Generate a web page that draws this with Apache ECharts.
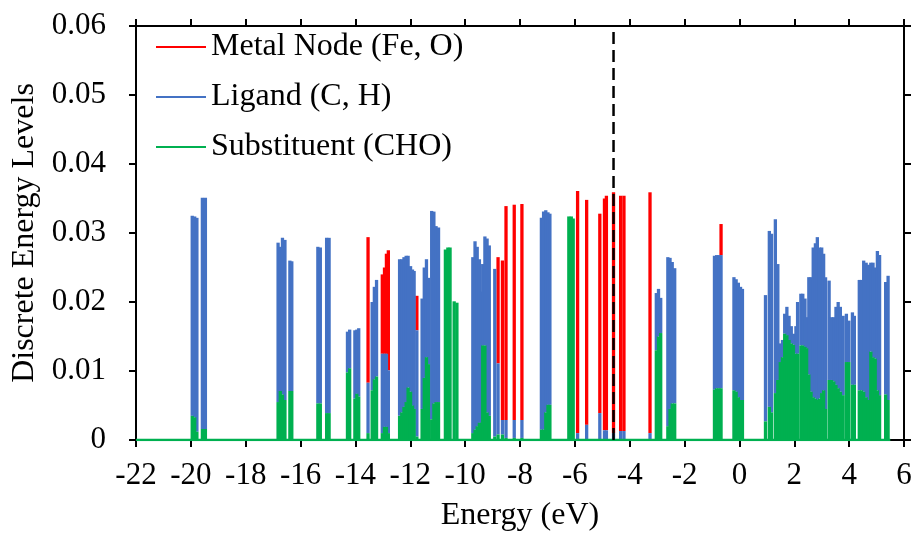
<!DOCTYPE html>
<html><head><meta charset="utf-8">
<script src="https://cdn.jsdelivr.net/npm/echarts@6/dist/echarts.min.js"></script>
<style>html,body{margin:0;padding:0;background:#fff}#c{width:916px;height:537px}</style>
</head><body><div id="c"></div>
<script>
// Discrete energy levels (eV) and partial contributions
const energy = [
 -19.95,-19.86,-19.78,-19.58,-19.47,
 -16.82,-16.74,-16.66,-16.57,-16.39,-16.32,
 -15.37,-15.28,-15.05,-14.96,
 -14.29,-14.21,-14.02,-13.95,-13.88,
 -13.54,-13.39,-13.31,-13.23,
 -13.02,-12.94,-12.87,-12.80,
 -12.39,-12.31,-12.23,-12.15,-12.08,-11.99,-11.92,-11.86,
 -11.76,-11.57,-11.49,-11.41,-11.34,
 -11.22,-11.14,-11.06,-10.97,
 -10.72,-10.63,-10.55,-10.40,-10.30,
 -9.72,-9.64,-9.56,-9.48,-9.42,-9.36,-9.28,-9.20,-9.12,
 -8.92,-8.80,-8.64,-8.51,-8.21,-7.93,
 -7.22,-7.14,-7.06,-6.98,-6.91,
 -6.22,-6.13,-6.06,
 -5.90,-5.57,-5.09,-4.92,-4.85,-4.59,-4.33,-4.21,-3.26,
 -3.03,-2.95,-2.87,
 -2.61,-2.53,-2.45,-2.36,
 -0.91,-0.83,-0.75,-0.67,
 -0.20,-0.12,-0.04,0.04,0.11,
 0.95,1.09,1.17,1.31,1.40,1.49,1.57,1.65,1.73,1.81,1.89,1.97,2.06,2.12,
 2.24,2.31,2.39,2.45,2.53,2.61,2.69,2.77,2.84,2.92,3.00,3.07,3.14,
 3.27,3.36,3.44,3.52,3.60,3.68,3.78,3.90,3.99,4.12,4.19,
 4.37,4.45,4.53,4.62,4.70,4.79,4.87,4.95,5.03,5.11,5.33,5.42
];
const substituent = [
 0.0035,0.0033,0.0012,0.0016,0.0016,
 0.0055,0.0071,0.0066,0.0058,0.0071,0.0071,
 0.0053,0.0053,0.0039,0.0039,
 0.0098,0.0104,0.0060,0.0067,0.0063,
 0.0010,0.0072,0.0088,0.0092,
 0.0010,0.0019,0.0019,0.0010,
 0.0035,0.0040,0.0048,0.0055,0.0076,0.0070,0.0050,0.0045,
 0.0005,0.0045,0.0090,0.0120,0.0110,
 0.0030,0.0053,0.0055,0.0055,
 0.0276,0.0279,0.0279,0.0201,0.0199,
 0.0010,0.0015,0.0020,0.0025,0.0025,0.0137,0.0137,0.0040,0.0035,
 0.0005,0.0008,0.0008,0.0003,0.0003,0.0003,
 0.0015,0.0015,0.0040,0.0051,0.0051,
 0.0324,0.0324,0.0321,
 0,0,0,0,0,0,0,0,0,
 0.0130,0.0150,0.0155,
 0.0020,0.0045,0.0053,0.0053,
 0.0073,0.0075,0.0075,0.0075,
 0.0072,0.0070,0.0062,0.0058,0.0058,
 0.0027,0.0048,0.0040,0.0068,0.0087,0.0113,0.0120,0.0154,0.0152,0.0145,0.0140,0.0138,0.0125,0.0125,
 0.0137,0.0137,0.0135,0.0133,0.0095,0.0070,0.0062,0.0060,0.0058,0.0060,0.0068,0.0072,0.0045,
 0.0087,0.0087,0.0085,0.0080,0.0075,0.0070,0.0065,0.0113,0.0113,0.0080,0.0080,
 0.0072,0.0072,0.0070,0.0062,0.0058,0.0128,0.0120,0.0118,0.0072,0.0065,0.0066,0.0058
];
const ligand = [
 0.0290,0.0291,0.0310,0.0335,0.0335,
 0.0231,0.0209,0.0227,0.0232,0.0189,0.0188,
 0.0227,0.0226,0.0254,0.0254,
 0.0059,0.0056,0.0099,0.0093,0.0099,
 0.0073,0.0128,0.0134,0.0140,
 0.0115,0.0106,0.0106,0.0091,
 0.0227,0.0222,0.0217,0.0212,0.0191,0.0182,0.0197,0.0200,
 0.0154,0.0160,0.0160,0.0142,0.0125,
 0.0302,0.0278,0.0255,0.0253,
 0,0,0,0,0,
 0.0255,0.0273,0.0260,0.0237,0.0190,0.0118,0.0158,0.0252,0.0247,
 0.0243,0.0103,0.0021,0.0026,0.0026,0.0026,
 0.0307,0.0316,0.0293,0.0279,0.0277,
 0,0,0,
 0.0010,0.0022,0.0039,0.0014,0.0014,0.0010,0.0013,0.0013,0.0010,
 0.0083,0.0069,0.0051,
 0.0245,0.0219,0.0205,0.0196,
 0.0194,0.0193,0.0193,0.0193,
 0.0164,0.0163,0.0166,0.0164,0.0161,
 0.0183,0.0255,0.0259,0.0252,0.0168,0.0027,0.0025,0.0029,0.0041,0.0035,0.0025,0.0016,0.0040,0.0075,
 0.0075,0.0075,0.0070,0.0045,0.0141,0.0166,0.0217,0.0225,0.0236,0.0219,0.0211,0.0198,0.0191,
 0.0144,0.0091,0.0093,0.0113,0.0125,0.0123,0.0115,0.0070,0.0060,0.0105,0.0100,
 0.0160,0.0160,0.0190,0.0195,0.0196,0.0129,0.0137,0.0132,0.0202,0.0203,0.0163,0.0180
];
const metal = [
 0,0,0,0,0,
 0,0,0,0,0,0,
 0,0,0,0,
 0,0,0,0,0,
 0.0211,0,0,0,
 0.0115,0.0125,0.0145,0.0174,
 0,0,0,0,0,0,0,0,
 0.0050,0,0,0,0,
 0,0,0,0,
 0,0,0,0,0,
 0,0,0,0,0,0,0,0,0,
 0,0.0154,0.0231,0.0310,0.0312,0.0313,
 0,0,0,0,0,
 0,0,0,
 0.0351,0.0326,0.0289,0.0336,0.0340,0.0349,0.0341,0.0341,0.0349,
 0,0,0,
 0,0,0,0,
 0,0,0,0.0045,
 0,0,0,0,0,
 0,0,0,0,0,0,0,0,0,0,0,0,0,0,
 0,0,0,0,0,0,0,0,0,0,0,0,0,
 0,0,0,0,0,0,0,0,0,0,0,
 0,0,0,0,0,0,0,0,0,0,0,0
];
const seriesNames = ['Metal Node (Fe, O)', 'Ligand (C, H)', 'Substituent (CHO)'];
const seriesColors = ['#ff0000', '#4472c4', '#00b050'];
const fermiLevel = -4.59;
const baselineSpan = [-22, 5.5];
const xRange = [-22, 6, 2];
const yRange = [0, 0.06, 0.01];

// stacked segments [energy, bottom, top]: substituent at bottom, ligand, then metal node
const r5 = v => +v.toFixed(5);
const subSeg = [], ligSeg = [], metSeg = [];
energy.forEach((e, i) => {
  const s = substituent[i], l = ligand[i], m = metal[i];
  if (s > 0) subSeg.push([e, 0, r5(s)]);
  if (l > 0) ligSeg.push([e, r5(s), r5(s + l)]);
  if (m > 0) metSeg.push([e, r5(s + l), r5(s + l + m)]);
});

const BAR_PX = 3.3;
function renderLevel(params, api) {
  const e = api.value(0);
  const p0 = api.coord([e, api.value(1)]);
  const p1 = api.coord([e, api.value(2)]);
  return {
    type: 'rect',
    shape: {x: p0[0] - BAR_PX / 2, y: p1[1], width: BAR_PX, height: p0[1] - p1[1]},
    style: {fill: api.visual('color')}
  };
}

const font = 'Liberation Serif';
const axisLine = {show: true, onZero: false, lineStyle: {color: '#000', width: 2}};
const axisTick = {show: true, inside: false, length: 7, lineStyle: {color: '#000', width: 2}};

const levelSeries = (idx, data, z) => ({
  name: seriesNames[idx], type: 'custom', renderItem: renderLevel, data,
  encode: {x: 0, y: [1, 2]}, color: seriesColors[idx], itemStyle: {color: seriesColors[idx]},
  z, silent: true
});

const chart = echarts.init(document.getElementById('c'));
chart.setOption({
  animation: false,
  backgroundColor: '#fff',
  grid: {left: 136, right: 12, top: 26, bottom: 97},
  legend: {
    data: seriesNames.map((n, i) => ({name: n, itemStyle: {color: seriesColors[i]}})),
    orient: 'vertical', left: 151, top: 26,
    icon: 'rect', itemWidth: 50, itemHeight: 2, itemGap: 18, selectedMode: false,
    textStyle: {fontFamily: font, fontSize: 32, color: '#000', lineHeight: 32}
  },
  xAxis: [
    {type: 'value', min: xRange[0], max: xRange[1], interval: xRange[2], position: 'bottom',
     axisLine, axisTick, splitLine: {show: false},
     axisLabel: {fontFamily: font, fontSize: 31, color: '#000', margin: 20},
     name: 'Energy (eV)', nameLocation: 'middle', nameGap: 60,
     nameTextStyle: {fontFamily: font, fontSize: 32, color: '#000'}},
    {type: 'value', min: xRange[0], max: xRange[1], interval: xRange[2], position: 'top',
     axisLine, axisTick, splitLine: {show: false}, axisLabel: {show: false}}
  ],
  yAxis: [
    {type: 'value', min: yRange[0], max: yRange[1], interval: yRange[2], position: 'left',
     axisLine, axisTick, splitLine: {show: false},
     axisLabel: {fontFamily: font, fontSize: 31, color: '#000', margin: 30},
     name: 'Discrete Energy Levels', nameLocation: 'middle', nameGap: 90,
     nameTextStyle: {fontFamily: font, fontSize: 32, color: '#000'}},
    {type: 'value', min: yRange[0], max: yRange[1], interval: yRange[2], position: 'right',
     axisLine, axisTick, splitLine: {show: false}, axisLabel: {show: false}}
  ],
  series: [
    levelSeries(0, metSeg, 2),
    levelSeries(1, ligSeg, 3),
    levelSeries(2, subSeg, 4),
    {type: 'line', data: [[baselineSpan[0], 0], [baselineSpan[1], 0]], symbol: 'none', silent: true,
     lineStyle: {color: '#00b050', width: 2.5}, z: 5},
    {type: 'line', data: [[fermiLevel, yRange[0]], [fermiLevel, yRange[1]]], symbol: 'none', silent: true,
     lineStyle: {color: '#000', width: 2.5, type: [12, 6]}, z: 6}
  ]
});
</script></body></html>
